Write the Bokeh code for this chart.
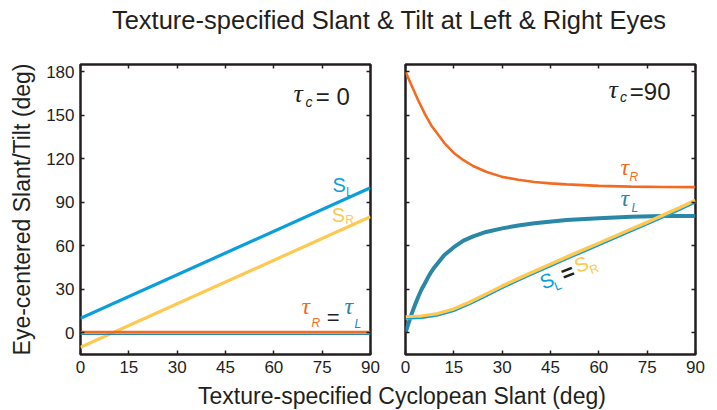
from bokeh.plotting import figure
from bokeh.models import Range1d, FixedTicker, LinearAxis, Label, Div
from bokeh.layouts import row, column
from bokeh.embed import file_html
from bokeh.resources import INLINE

FONT = "Liberation Sans"
SERIF = "Liberation Serif"
INK = "#231F20"
C_SL = "#0A9FDB"
C_SR = "#FFC851"
C_TR = "#F26B21"
C_TL = "#2A87A6"

x_ticks = [0, 15, 30, 45, 60, 75, 90]
y_ticks = [0, 30, 60, 90, 120, 150, 180]

# ---- left panel: tau_c = 0 ----
left_x = [0, 90]
left_sL = [10, 100]
left_sR = [-10, 80]
left_tauR = [0.5, 0.5]
left_tauL = [-1.0, -1.0]

# ---- right panel: tau_c = 90 ----
r_tauR_x = [0, 1, 2, 3, 4, 5, 6, 7, 8, 9, 10, 12, 15, 18, 21, 25, 30, 35, 40, 45, 50, 60, 70, 80, 90]
r_tauR = [180, 175, 170, 165, 160, 155.5, 151, 147, 143, 140, 137, 131, 124, 119, 115, 111, 107.5,
          105.5, 104, 103, 102.3, 101.3, 100.8, 100.5, 100.4]

r_tauL_x = [0, 1, 2, 3, 4, 5, 6, 7, 8, 9, 10, 12, 15, 18, 21, 25, 30, 35, 40, 50, 60, 70, 80, 90]
r_tauL = [0, 7, 13.5, 19.5, 25, 30, 34, 38.2, 42, 45.2, 48, 53.5, 59, 63.5, 66.5, 69.5, 72, 74,
          75.5, 77.8, 79, 80, 80.5, 80.6]

r_s_x = [0, 5, 10, 15, 20, 25, 30, 35, 40, 45, 50, 55, 60, 65, 70, 75, 80, 85, 90]
r_sR = [10.5, 11.0, 12.8, 16.0, 20.8, 26.2, 31.8, 37.0, 42.0, 46.9, 51.8, 56.6, 61.4, 66.2, 71.0, 75.8, 80.8, 85.8, 91.0]
r_sL = [9.6, 10.0, 11.6, 14.8, 19.5, 24.9, 30.5, 35.7, 40.7, 45.6, 50.5, 55.3, 60.1, 64.9, 69.7, 74.5, 79.4, 84.4, 89.6]

# annotation specs: text, x, y, size, color, font, style, align, angle
left_labels = [
    ("τ", 66.1, 165.0, "26px", INK, SERIF, "italic", "left", 0),
    ("c", 69.8, 159.4, "14px", INK, FONT, "italic", "left", 0),
    ("= 0", 73.0, 162.9, "24px", INK, FONT, "normal", "left", 0),
    ("S", 78.2, 101.6, "20px", C_SL, FONT, "normal", "left", 0),
    ("L", 82.4, 97.4, "12px", C_SL, FONT, "normal", "left", 0),
    ("S", 78.0, 80.9, "20px", C_SR, FONT, "normal", "left", 0),
    ("R", 82.2, 78.1, "12px", C_SR, FONT, "normal", "left", 0),
    ("τ", 68.6, 18.7, "24px", C_TR, SERIF, "italic", "left", 0),
    ("R", 71.7, 6.4, "12px", C_TR, FONT, "italic", "left", 0),
    ("=", 76.4, 10.5, "22px", INK, FONT, "normal", "left", 0),
    ("τ", 81.9, 18.7, "24px", C_TL, SERIF, "italic", "left", 0),
    ("L", 85.0, 5.7, "12px", C_TL, FONT, "italic", "left", 0),
]
right_labels = [
    ("τ", 63.0, 168.0, "26px", INK, SERIF, "italic", "left", 0),
    ("c", 66.6, 162.6, "14px", INK, FONT, "italic", "left", 0),
    ("=90", 69.6, 166.4, "24px", INK, FONT, "normal", "left", 0),
    ("τ", 66.7, 114.6, "24px", C_TR, SERIF, "italic", "left", 0),
    ("R", 69.5, 107.1, "12px", C_TR, FONT, "italic", "left", 0),
    ("τ", 66.7, 93.2, "24px", C_TL, SERIF, "italic", "left", 0),
    ("L", 70.1, 85.7, "12px", C_TL, FONT, "italic", "left", 0),
    ("S", 43.9, 35.8, "20px", C_SL, FONT, "normal", "center", 0.38),
    ("L", 47.3, 32.3, "12px", C_SL, FONT, "normal", "center", 0.38),
    ("=", 50.3, 41.7, "22px", INK, FONT, "bold", "center", 0.38),
    ("S", 54.6, 47.2, "20px", C_SR, FONT, "normal", "center", 0.38),
    ("R", 58.5, 44.1, "12px", C_SR, FONT, "normal", "center", 0.38),
]


def style_axis(ax, ticks, show_labels):
    ax.ticker = FixedTicker(ticks=ticks)
    ax.major_tick_in = 4
    ax.major_tick_out = 0
    ax.minor_tick_line_color = None
    ax.axis_line_color = None
    ax.major_tick_line_color = INK
    ax.major_tick_line_width = 1.5
    ax.major_label_text_font = FONT
    if show_labels:
        ax.major_label_text_color = INK
        ax.major_label_text_font_size = "17px"
        ax.major_label_standoff = 6
    else:
        ax.major_label_text_color = None
        ax.major_label_text_font_size = "1px"
        ax.major_label_standoff = 0


def make_panel(width, border_left, border_right, show_y_labels):
    p = figure(width=width, height=336, x_range=Range1d(0, 90), y_range=Range1d(-15, 185),
               output_backend="svg", toolbar_location=None,
               min_border_left=border_left, min_border_right=border_right,
               min_border_top=16, min_border_bottom=30)
    p.xgrid.grid_line_color = None
    p.ygrid.grid_line_color = None
    p.outline_line_color = INK
    p.outline_line_width = 2.5
    p.outline_line_alpha = 1.0
    style_axis(p.xaxis[0], x_ticks, True)
    style_axis(p.yaxis[0], y_ticks, show_y_labels)
    ax_r = LinearAxis()
    style_axis(ax_r, y_ticks, False)
    p.add_layout(ax_r, "right")
    ax_t = LinearAxis()
    style_axis(ax_t, x_ticks, False)
    p.add_layout(ax_t, "above")
    return p


def add_labels(p, specs):
    for text, x, y, size, color, font, style, align, ang in specs:
        p.add_layout(Label(x=x, y=y, text=text, text_font=font, text_font_size=size,
                           text_color=color, text_font_style=style, text_align=align,
                           text_baseline="middle", angle=ang))


p1 = make_panel(387, 80, 17, True)
p1.yaxis[0].axis_label = "Eye-centered Slant/Tilt (deg)"
p1.yaxis[0].axis_label_text_font = FONT
p1.yaxis[0].axis_label_text_font_size = "23px"
p1.yaxis[0].axis_label_text_font_style = "normal"
p1.yaxis[0].axis_label_text_color = INK
p1.yaxis[0].axis_label_standoff = 8

p1.line(left_x, left_sL, line_color=C_SL, line_width=3.2)
p1.line(left_x, left_sR, line_color=C_SR, line_width=3.2)
p1.line(left_x, left_tauL, line_color=C_TL, line_width=1.6)
p1.line(left_x, left_tauR, line_color=C_TR, line_width=2.6)
add_labels(p1, left_labels)

p2 = make_panel(322, 18, 14, False)
p2.line(r_tauR_x, r_tauR, line_color=C_TR, line_width=2.6)
p2.line(r_tauL_x, r_tauL, line_color=C_TL, line_width=4)
p2.line(r_s_x, r_sR, line_color=C_SR, line_width=4.5)
p2.line(r_s_x, r_sL, line_color=C_SL, line_width=1.3)
add_labels(p2, right_labels)

title = Div(text=('<div style="margin-left:89px;width:600px;text-align:center;white-space:nowrap;'
                  'font-family:\'Liberation Sans\';font-size:25.5px;line-height:30px;color:#231F20;'
                  'position:relative;top:5px;">'
                  'Texture-specified Slant &amp; Tilt at Left &amp; Right Eyes</div>'),
            width=709, height=48, margin=0)
xlabel = Div(text=('<div style="position:relative;top:0px;margin-left:152px;width:500px;text-align:center;'
                   'white-space:nowrap;font-family:\'Liberation Sans\';font-size:23px;line-height:24px;color:#231F20;">'
                   'Texture-specified Cyclopean Slant (deg)</div>'),
             width=709, height=26, margin=0)

layout = column(title, row(p1, p2), xlabel)
open("out.html", "w").write(file_html(layout, INLINE))
